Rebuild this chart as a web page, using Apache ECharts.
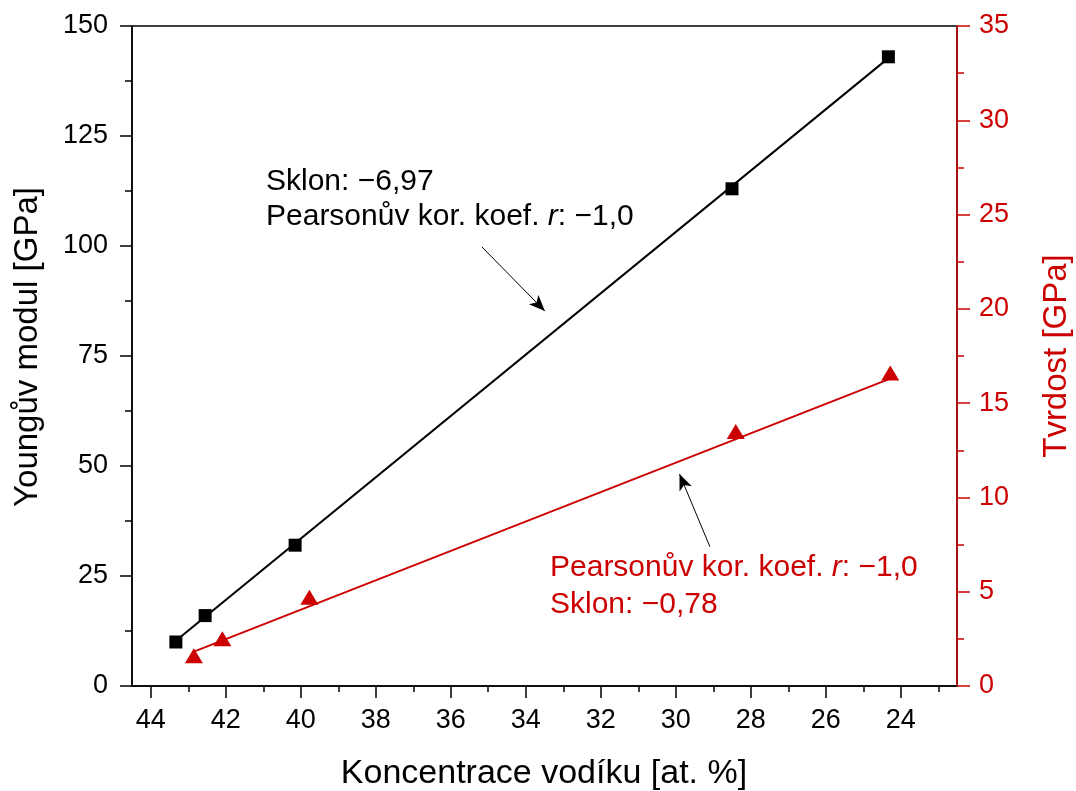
<!DOCTYPE html>
<html>
<head>
<meta charset="utf-8">
<script src="https://cdn.jsdelivr.net/npm/echarts@6/dist/echarts.min.js"></script>
<style>
  html, body { margin: 0; padding: 0; background: #fff; }
  #chart { width: 1076px; height: 791px; }
</style>
</head>
<body>
<div id="chart"></div>
<script>
// Hydrogen concentration [at. %] vs. Young's modulus and hardness
const youngX = [43.33, 42.55, 40.15, 28.5, 24.33];
const youngY = [10, 16, 32, 113, 143];
const hardX = [42.85, 42.09, 39.77, 28.4, 24.28];
const hardY = [1.6, 2.5, 4.7, 13.5, 16.6];

// linear-fit segments (endpoints as drawn)
const youngFitX = [43.33, 24.33];
const youngFitY = [10.3, 142.7];
const hardFitX = [42.85, 24.28];
const hardFitY = [1.82, 16.3];

// annotation arrows: [tail, head] in data coordinates
const youngArrow = [[35.17, 99.8], [33.49, 85.2]];
const hardArrow = [[29.09, 7.39], [29.9, 11.24]];

const xMajorTicks = [24, 26, 28, 30, 32, 34, 36, 38, 40, 42, 44];
const xMinorTicks = [23, 25, 27, 29, 31, 33, 35, 37, 39, 41, 43];

const youngAnnot = ['Sklon: −6,97', 'Pearsonův kor. koef. ', 'r', ': −1,0'];
const hardAnnot = ['Sklon: −0,78', 'Pearsonův kor. koef. ', 'r', ': −1,0'];

const xTitle = 'Koncentrace vodíku [at. %]';
const yLeftTitle = 'Youngův modul [GPa]';
const yRightTitle = 'Tvrdost [GPa]';

const FONT = '"Liberation Sans", Arial, Helvetica, sans-serif';
const RED = '#cc0000';
const BLACK = '#000000';
const ANNOT_SIZE = 30;

const zip = (xs, ys) => xs.map((x, i) => [x, ys[i]]);

const chart = echarts.init(document.getElementById('chart'), null, { renderer: 'canvas' });

function richText(x, y, text, color) {
  return {
    type: 'text',
    x: x, y: y,
    silent: true,
    style: {
      text: text,
      fill: color,
      font: ANNOT_SIZE + 'px ' + FONT,
      textAlign: 'left',
      textVerticalAlign: 'middle',
      rich: {
        a: { fontFamily: FONT, fontSize: ANNOT_SIZE, fill: color, color: color },
        i: { fontFamily: FONT, fontSize: ANNOT_SIZE, fontStyle: 'italic', fill: color, color: color }
      }
    }
  };
}

function arrowLine(coords) {
  return {
    silent: true, animation: false,
    symbol: ['none', 'arrow'], symbolSize: [10, 16],
    label: { show: false },
    lineStyle: { color: BLACK, width: 1, type: 'solid' },
    emphasis: { disabled: true },
    data: [[{ coord: coords[0] }, { coord: coords[1] }]]
  };
}

const option = {
  backgroundColor: '#fff',
  animation: false,
  grid: {
    left: 132, right: 119, top: 26, bottom: 105,
    show: true, borderColor: BLACK, borderWidth: 1.5
  },
  xAxis: [
    {
      type: 'value', inverse: true, min: 22.5, max: 44.5,
      position: 'bottom',
      axisLine: { show: true, lineStyle: { color: BLACK, width: 1.5 } },
      axisTick: { show: true, inside: false, length: 12, lineStyle: { color: BLACK, width: 1.5 }, customValues: xMajorTicks },
      axisLabel: { fontFamily: FONT, fontSize: 27, color: BLACK, margin: 21, customValues: xMajorTicks },
      splitLine: { show: false }
    },
    {
      type: 'value', inverse: true, min: 22.5, max: 44.5,
      position: 'bottom',
      axisLine: { show: false },
      axisTick: { show: true, inside: false, length: 6, lineStyle: { color: BLACK, width: 1.5 }, customValues: xMinorTicks },
      axisLabel: { show: false },
      splitLine: { show: false }
    }
  ],
  yAxis: [
    {
      type: 'value', min: 0, max: 150, interval: 25, position: 'left',
      axisLine: { show: true, lineStyle: { color: BLACK, width: 1.5 } },
      axisTick: { show: true, inside: false, length: 12, lineStyle: { color: BLACK, width: 1.5 } },
      minorTick: { show: true, splitNumber: 2, length: 7, lineStyle: { color: BLACK, width: 1.5 } },
      axisLabel: { fontFamily: FONT, fontSize: 27, color: BLACK, margin: 24 },
      splitLine: { show: false }
    },
    {
      type: 'value', min: 0, max: 35, interval: 5, position: 'right',
      axisLine: { show: true, lineStyle: { color: RED, width: 1.5 } },
      axisTick: { show: true, inside: false, length: 13, lineStyle: { color: RED, width: 1.5 } },
      minorTick: { show: true, splitNumber: 2, length: 7, lineStyle: { color: RED, width: 1.5 } },
      axisLabel: { fontFamily: FONT, fontSize: 27, color: RED, margin: 22 },
      splitLine: { show: false }
    }
  ],
  series: [
    {
      name: 'fitYoung', type: 'line', xAxisIndex: 0, yAxisIndex: 0,
      data: zip(youngFitX, youngFitY), showSymbol: false, symbol: 'none',
      lineStyle: { color: BLACK, width: 2 }, silent: true, z: 2,
      markLine: arrowLine(youngArrow)
    },
    {
      name: 'fitHard', type: 'line', xAxisIndex: 0, yAxisIndex: 1,
      data: zip(hardFitX, hardFitY), showSymbol: false, symbol: 'none',
      lineStyle: { color: RED, width: 2 }, silent: true, z: 2,
      markLine: arrowLine(hardArrow)
    },
    {
      name: yLeftTitle, type: 'scatter', xAxisIndex: 0, yAxisIndex: 0,
      data: zip(youngX, youngY), symbol: 'rect', symbolSize: 13,
      itemStyle: { color: BLACK, opacity: 1 }, z: 3
    },
    {
      name: yRightTitle, type: 'scatter', xAxisIndex: 0, yAxisIndex: 1,
      data: zip(hardX, hardY), symbol: 'triangle', symbolSize: [18, 15],
      itemStyle: { color: RED, opacity: 1 }, z: 3
    }
  ],
  graphic: [
    {
      type: 'text', x: 544, y: 774, silent: true,
      style: { text: xTitle, font: '34px ' + FONT, fill: BLACK, textAlign: 'center', textVerticalAlign: 'middle' }
    },
    {
      type: 'text', x: 28, y: 347, rotation: Math.PI / 2, silent: true,
      style: { text: yLeftTitle, font: '33px ' + FONT, fill: BLACK, textAlign: 'center', textVerticalAlign: 'middle' }
    },
    {
      type: 'text', x: 1057, y: 356, rotation: Math.PI / 2, silent: true,
      style: { text: yRightTitle, font: '33px ' + FONT, fill: RED, textAlign: 'center', textVerticalAlign: 'middle' }
    },
    richText(266, 182, '{a|' + youngAnnot[0] + '}', BLACK),
    richText(266, 217, '{a|' + youngAnnot[1] + '}{i|' + youngAnnot[2] + '}{a|' + youngAnnot[3] + '}', BLACK),
    richText(550, 568, '{a|' + hardAnnot[1] + '}{i|' + hardAnnot[2] + '}{a|' + hardAnnot[3] + '}', RED),
    richText(550, 605, '{a|' + hardAnnot[0] + '}', RED)
  ]
};

chart.setOption(option);
</script>
</body>
</html>
